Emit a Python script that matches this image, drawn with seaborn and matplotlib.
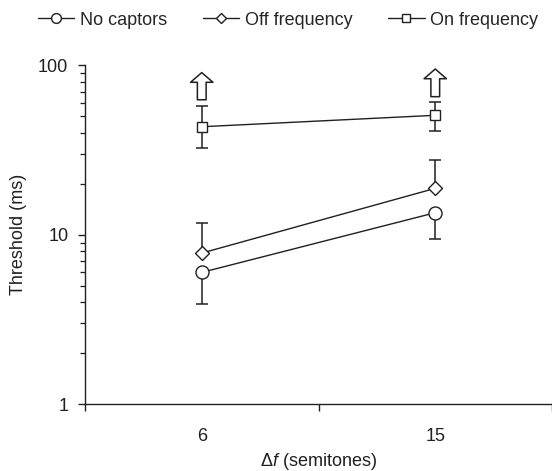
import numpy as np
import pandas as pd
import matplotlib
matplotlib.use("Agg")
import matplotlib.pyplot as plt
import matplotlib.ticker as mticker
import seaborn as sns

# ---------------------------------------------------------------------------
# Data
# ---------------------------------------------------------------------------
delta_f_labels = ["6", "15"]
delta_f_pos = [0.5, 1.5]

conditions = ["No captors", "Off frequency", "On frequency"]
threshold_no_captors = [6.0, 13.5]
threshold_off_freq = [7.8, 18.8]
threshold_on_freq = [43.4, 50.7]

# error bar ends (None = no bar on that side)
err_low_no_captors = [3.9, 9.5]
err_high_no_captors = [None, None]
err_low_off_freq = [None, None]
err_high_off_freq = [11.7, 27.7]
err_low_on_freq = [32.6, 41.1]
err_high_on_freq = [57.8, 61.0]

# hollow "upper limit" arrows above the on-frequency points
arrow_base = [62.6, 65.3]
arrow_tip = [90.6, 95.1]

markers = {"No captors": "o", "Off frequency": "D", "On frequency": "s"}
marker_sizes = {"No captors": 9.4, "Off frequency": 7.0, "On frequency": 7.4}

INK = "#231f20"

rows = []
for cond, vals in zip(conditions, [threshold_no_captors, threshold_off_freq, threshold_on_freq]):
    for lab, pos, v in zip(delta_f_labels, delta_f_pos, vals):
        rows.append({"condition": cond, "delta_f": lab, "x": pos, "threshold": v})
df = pd.DataFrame(rows)

errs = {
    "No captors": (err_low_no_captors, err_high_no_captors),
    "Off frequency": (err_low_off_freq, err_high_off_freq),
    "On frequency": (err_low_on_freq, err_high_on_freq),
}

# ---------------------------------------------------------------------------
# Plot
# ---------------------------------------------------------------------------
sns.set_style("ticks")
plt.rcParams["font.family"] = ["Liberation Sans", "DejaVu Sans"]
plt.rcParams["mathtext.fontset"] = "custom"
plt.rcParams["mathtext.rm"] = "Liberation Sans"
plt.rcParams["mathtext.it"] = "Liberation Sans:italic"
FS = 13

fig = plt.figure(figsize=(5.52, 4.71), dpi=100)
W, H = 552, 471
ax_left, ax_top, ax_bot = 85, 65.3, 404.3
ax = fig.add_axes([ax_left / W, 1 - ax_bot / H, (W - ax_left) / W, (ax_bot - ax_top) / H])

# error bars first so the white-filled markers sit on top
for cond in conditions:
    sub = df[df["condition"] == cond]
    y = sub["threshold"].to_numpy()
    lo_ends, hi_ends = errs[cond]
    lo = np.array([yy - l if l is not None else 0 for yy, l in zip(y, lo_ends)])
    hi = np.array([h - yy if h is not None else 0 for yy, h in zip(y, hi_ends)])
    ax.errorbar(sub["x"], y, yerr=[lo, hi], fmt="none", ecolor=INK,
                elinewidth=1.1, capsize=4.2, capthick=1.1, zorder=2)

for cond in conditions:
    sub = df[df["condition"] == cond]
    sns.lineplot(data=sub, x="x", y="threshold", ax=ax, color=INK, lw=1.0,
                 marker=markers[cond], markersize=marker_sizes[cond],
                 markerfacecolor="white", markeredgecolor=INK, markeredgewidth=1.0,
                 label=cond, legend=False, zorder=3)

for xp, b, t in zip(delta_f_pos, arrow_base, arrow_tip):
    ax.annotate("", xy=(xp, t), xytext=(xp, b),
                arrowprops=dict(arrowstyle="simple,head_length=0.5,head_width=1.15,tail_width=0.45",
                                fc="white", ec=INK, lw=1.1, shrinkA=0, shrinkB=0,
                                mutation_scale=14))

# axes
ax.set_yscale("log")
ax.set_ylim(1, 100)
ax.set_xlim(0, (W - ax_left) / 236.0)
ax.yaxis.set_major_locator(mticker.FixedLocator([1, 10, 100]))
ax.yaxis.set_major_formatter(mticker.FixedFormatter(["1", "10", "100"]))
ax.yaxis.set_minor_locator(mticker.LogLocator(base=10, subs=np.arange(2, 10)))
ax.yaxis.set_minor_formatter(mticker.NullFormatter())

ax.set_xticks([0, 1, 2])
ax.set_xticklabels(["", "", ""])
ax.set_xticks(delta_f_pos, minor=True)
ax.set_xticklabels(delta_f_labels, minor=True)
ax.tick_params(axis="x", which="minor", length=0, pad=17, labelsize=FS, colors=INK)
ax.tick_params(axis="x", which="major", length=5, width=1.0, colors=INK)
ax.tick_params(axis="y", which="major", length=5, width=1.0, pad=7, labelsize=FS, colors=INK)
ax.tick_params(axis="y", which="minor", length=3.5, width=0.9, colors=INK)

for s in ["top", "right"]:
    ax.spines[s].set_visible(False)
for s in ["left", "bottom"]:
    ax.spines[s].set_linewidth(1.0)
    ax.spines[s].set_color(INK)

ax.set_ylabel("Threshold (ms)", fontsize=FS, color=INK)
ax.yaxis.set_label_coords(-(ax_left - 19) / (W - ax_left), 0.5)
ax.set_xlabel(r"$\Delta f$ (semitones)", fontsize=FS, color=INK)
ax.xaxis.set_label_coords((318 - ax_left) / (W - ax_left), -(461 - ax_bot) / (ax_bot - ax_top))
ax.xaxis.label.set_va("center")
ax.yaxis.label.set_va("center")

handles, labels = ax.get_legend_handles_labels()
fig.legend(handles, labels, loc="center", bbox_to_anchor=(0.522, 0.957), ncol=3,
           frameon=False, fontsize=FS, handlelength=2.0, handletextpad=0.3,
           columnspacing=2.0, markerscale=0.75, borderpad=0)

fig.savefig("out.png", dpi=100)
